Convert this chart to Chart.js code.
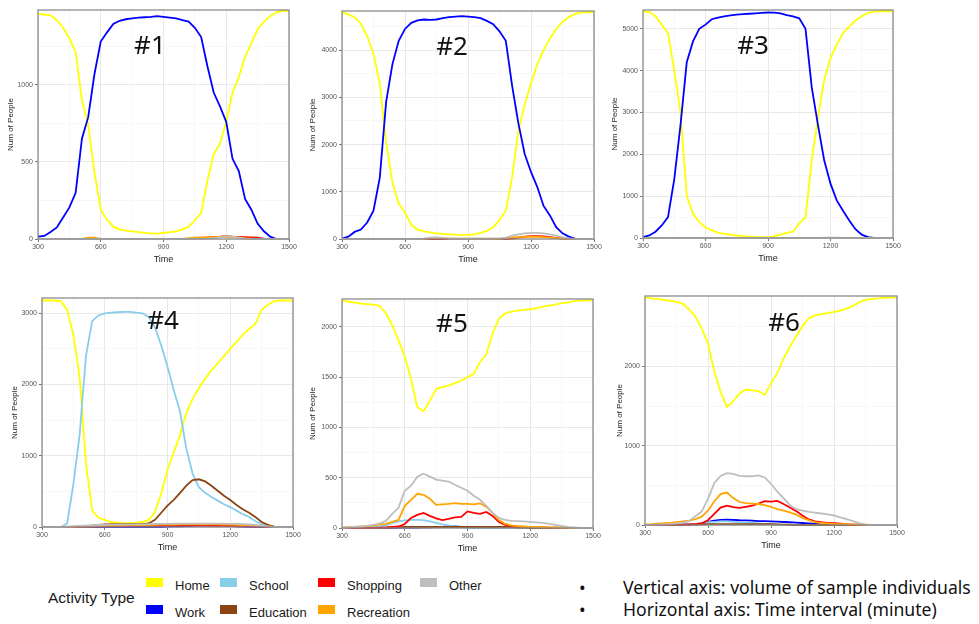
<!DOCTYPE html>
<html>
<head>
<meta charset="utf-8">
<script src="https://cdn.jsdelivr.net/npm/chart.js@4.4.1/dist/chart.umd.min.js"></script>
<style>
  body { margin: 0; background: #fff; }
  #page { position: relative; width: 979px; height: 624px; overflow: hidden; font-family: "Liberation Sans", Arial, sans-serif; }
  #page canvas { position: absolute; }
  .key { position: absolute; width: 17px; height: 9px; }
  .keytxt { position: absolute; font-size: 13px; line-height: 14px; color: #1a1a1a; white-space: nowrap; }
  #legtitle { position: absolute; left: 48px; top: 589px; font-size: 15.5px; line-height: 18px; color: #1a1a1a; }
  .note { position: absolute; font-family: "Noto Sans", sans-serif; font-size: 17.6px; line-height: 22px; color: #111; white-space: nowrap; }
</style>
</head>
<body>
<div id="page">
  <canvas id="c1"></canvas><canvas id="c2"></canvas><canvas id="c3"></canvas>
  <canvas id="c4"></canvas><canvas id="c5"></canvas><canvas id="c6"></canvas>
  <div id="legtitle">Activity Type</div>
  <div class="note" style="left:579px; top:576px;">•</div>
  <div class="note" style="left:623px; top:576px;">Vertical axis: volume of sample individuals</div>
  <div class="note" style="left:579px; top:598px;">•</div>
  <div class="note" style="left:623px; top:598px;">Horizontal axis: Time interval (minute)</div>
</div>
<script>
// time axis (minutes)
const times = [300, 330, 360, 390, 420, 450, 480, 510, 540, 570, 600, 630, 660, 690, 720, 750, 780, 810, 840, 870,
  900, 930, 960, 990, 1020, 1050, 1080, 1110, 1140, 1170, 1200, 1230, 1260, 1290, 1320, 1350, 1380, 1410, 1440, 1470, 1500];
const xTicks = [300, 600, 900, 1200, 1500];
const xGrid = [300, 450, 600, 750, 900, 1050, 1200, 1350, 1500];

const activities = ['Home', 'Work', 'School', 'Education', 'Shopping', 'Recreation', 'Other'];
const activityColors = ['#FFFF00', '#0000FF', '#87CEEB', '#8B4513', '#FF0000', '#FFA500', '#BEBEBE'];

// #1
const p1Home = [1460, 1455, 1450, 1420, 1370, 1300, 1210, 900, 740, 430, 190, 125, 80, 62, 55, 50, 45, 40, 36, 35,
  40, 45, 50, 62, 80, 120, 170, 380, 550, 620, 760, 950, 1050, 1180, 1270, 1360, 1410, 1445, 1470, 1480, 1480];
const p1Work = [15, 20, 45, 75, 140, 205, 300, 650, 790, 1070, 1280, 1340, 1395, 1415, 1425, 1430, 1435, 1438, 1440, 1445,
  1440, 1435, 1430, 1420, 1410, 1370, 1310, 1120, 950, 860, 760, 520, 440, 260, 190, 100, 50, 15, 0, 0, 0];
const p1Shopping = [0, 0, 0, 0, 0, 0, 0, 0, 0, 0, 0, 0, 0, 0, 0, 0, 0, 0, 0, 0,
  0, 0, 0, 0, 0, 0, 3, 10, 14, 15, 18, 15, 14, 12, 10, 8, 3, 0, 0, 0, 0];
const p1Recreation = [0, 0, 0, 0, 0, 0, 0, 0, 8, 8, 0, 0, 0, 0, 0, 0, 0, 0, 0, 0,
  0, 0, 0, 0, 5, 8, 10, 12, 12, 14, 15, 12, 10, 6, 3, 0, 0, 0, 0, 0, 0];
const p1Other = [0, 0, 0, 0, 0, 0, 0, 0, 0, 0, 0, 0, 0, 0, 0, 0, 0, 0, 0, 0,
  0, 0, 0, 0, 0, 0, 0, 3, 5, 10, 18, 15, 8, 3, 0, 0, 0, 0, 0, 0, 0];
const p1YTicks = [0, 500, 1000];
const p1YGrid = [0, 250, 500, 750, 1000, 1250];

// #2
const p2Home = [4800, 4760, 4700, 4560, 4300, 3920, 3300, 2050, 1200, 750, 560, 300, 200, 160, 140, 120, 110, 100, 92, 88,
  90, 100, 130, 170, 250, 400, 600, 1300, 2300, 2850, 3300, 3700, 4000, 4250, 4450, 4600, 4700, 4770, 4800, 4800, 4800];
const p2Work = [10, 50, 150, 200, 350, 600, 1300, 2900, 3700, 4200, 4450, 4580, 4630, 4650, 4640, 4650, 4680, 4700, 4710, 4720,
  4710, 4700, 4680, 4620, 4550, 4400, 4200, 3250, 2450, 1800, 1420, 1100, 700, 500, 250, 120, 50, 10, 0, 0, 0];
const p2Shopping = [0, 0, 0, 0, 0, 0, 0, 0, 0, 0, 0, 0, 0, 0, 0, 0, 0, 0, 0, 0,
  0, 0, 0, 0, 0, 0, 0, 10, 30, 50, 60, 60, 55, 40, 25, 10, 0, 0, 0, 0, 0];
const p2Recreation = [0, 0, 0, 0, 0, 0, 0, 0, 0, 0, 0, 0, 0, 0, 20, 25, 20, 5, 5, 5,
  5, 5, 5, 5, 5, 5, 20, 35, 40, 45, 50, 45, 40, 30, 20, 10, 0, 0, 0, 0, 0];
const p2Other = [0, 0, 0, 0, 0, 0, 0, 0, 0, 0, 0, 0, 0, 10, 30, 35, 25, 10, 5, 5,
  5, 5, 5, 8, 10, 15, 30, 70, 100, 120, 130, 130, 120, 100, 70, 40, 15, 3, 0, 0, 0];
const p2YTicks = [0, 1000, 2000, 3000, 4000];
const p2YGrid = [0, 500, 1000, 1500, 2000, 2500, 3000, 3500, 4000, 4500];

// #3
const p3Home = [5420, 5400, 5300, 5100, 4900, 4000, 3000, 1000, 580, 380, 250, 180, 130, 100, 80, 60, 45, 35, 25, 20,
  20, 40, 80, 120, 150, 350, 500, 1850, 2900, 3780, 4300, 4620, 4900, 5050, 5200, 5300, 5380, 5410, 5420, 5420, 5420];
const p3Work = [20, 60, 150, 300, 500, 1400, 2700, 4200, 4700, 5000, 5100, 5230, 5270, 5300, 5320, 5340, 5350, 5360, 5370, 5380,
  5390, 5385, 5370, 5330, 5300, 5250, 5000, 3600, 2700, 1850, 1300, 900, 650, 420, 210, 80, 20, 0, 0, 0, 0];
const p3Other = [0, 0, 0, 0, 0, 0, 0, 0, 0, 0, 0, 0, 0, 0, 0, 0, 0, 0, 0, 0,
  0, 0, 0, 0, 0, 0, 0, 0, 3, 6, 8, 6, 3, 0, 0, 0, 0, 0, 0, 0, 0];
const p3YTicks = [0, 1000, 2000, 3000, 4000, 5000];
const p3YGrid = [0, 500, 1000, 1500, 2000, 2500, 3000, 3500, 4000, 4500, 5000];

// #4
const p4Home = [3180, 3180, 3180, 3170, 3050, 2700, 2100, 900, 230, 130, 100, 70, 60, 55, 55, 60, 70, 100, 210, 470,
  800, 1050, 1290, 1600, 1800, 1950, 2080, 2200, 2300, 2400, 2500, 2600, 2700, 2780, 2850, 3050, 3120, 3170, 3180, 3180, 3180];
const p4Work = [0, 0, 0, 0, 0, 0, 0, 0, 0, 0, 0, 0, 0, 0, 0, 0, 0, 0, 0, 0,
  5, 8, 10, 12, 15, 18, 20, 20, 20, 18, 15, 10, 5, 2, 0, 0, 0, 0, 0, 0, 0];
const p4School = [0, 0, 0, 0, 50, 600, 1300, 2400, 2890, 2970, 3000, 3010, 3015, 3020, 3020, 3010, 3000, 2950, 2800, 2550,
  2250, 1920, 1620, 1100, 750, 560, 480, 420, 370, 320, 280, 230, 180, 140, 80, 40, 10, 0, 0, 0, 0];
const p4Education = [0, 0, 0, 0, 0, 0, 5, 10, 20, 30, 35, 40, 40, 40, 40, 40, 40, 50, 100, 200,
  300, 380, 480, 580, 660, 670, 640, 580, 510, 440, 380, 310, 250, 200, 140, 70, 30, 5, 0, 0, 0];
const p4Shopping = [0, 0, 0, 0, 0, 0, 2, 4, 6, 8, 10, 12, 13, 14, 15, 15, 15, 16, 16, 17,
  18, 18, 18, 18, 18, 18, 18, 17, 16, 15, 14, 12, 10, 8, 6, 4, 2, 0, 0, 0, 0];
const p4Recreation = [0, 0, 0, 0, 3, 5, 8, 10, 12, 15, 18, 20, 22, 24, 25, 26, 27, 28, 30, 32,
  34, 35, 36, 38, 38, 38, 38, 37, 36, 35, 33, 30, 28, 25, 20, 14, 8, 3, 0, 0, 0];
const p4Other = [0, 0, 0, 0, 5, 10, 15, 20, 25, 28, 30, 32, 34, 35, 36, 37, 38, 40, 42, 44,
  45, 46, 47, 48, 48, 48, 48, 48, 47, 46, 45, 43, 40, 35, 30, 20, 10, 3, 0, 0, 0];
const p4YTicks = [0, 1000, 2000, 3000];
const p4YGrid = [0, 500, 1000, 1500, 2000, 2500, 3000];

// #5
const p5Home = [2260, 2250, 2240, 2230, 2225, 2220, 2207, 2133, 2017, 1867, 1700, 1480, 1200, 1160, 1265, 1380, 1400, 1415, 1440, 1465,
  1500, 1530, 1650, 1725, 1930, 2080, 2130, 2150, 2160, 2167, 2173, 2183, 2200, 2210, 2220, 2233, 2240, 2253, 2260, 2262, 2262];
const p5Work = [0, 0, 0, 0, 0, 0, 0, 0, 2, 3, 4, 5, 5, 6, 6, 8, 10, 15, 15, 12,
  8, 5, 3, 2, 0, 0, 0, 0, 0, 0, 0, 0, 0, 0, 0, 0, 0, 0, 0, 0, 0];
const p5School = [0, 0, 0, 2, 5, 10, 15, 25, 50, 65, 75, 80, 80, 78, 65, 50, 35, 25, 15, 10,
  5, 3, 0, 0, 0, 0, 0, 0, 0, 0, 0, 0, 0, 0, 0, 0, 0, 0, 0, 0, 0];
const p5Education = [0, 0, 0, 0, 0, 0, 0, 3, 5, 8, 10, 10, 10, 10, 10, 10, 10, 10, 10, 10,
  10, 10, 10, 10, 10, 10, 10, 8, 5, 3, 0, 0, 0, 0, 0, 0, 0, 0, 0, 0, 0];
const p5Shopping = [0, 0, 0, 0, 0, 0, 3, 5, 10, 15, 40, 100, 130, 150, 120, 95, 78, 90, 105, 110,
  165, 150, 140, 160, 120, 60, 30, 20, 15, 12, 10, 8, 6, 4, 3, 2, 0, 0, 0, 0, 0];
const p5Recreation = [5, 8, 12, 15, 20, 25, 35, 40, 60, 80, 220, 280, 340, 330, 290, 230, 235, 240, 248, 240,
  240, 235, 245, 210, 150, 80, 40, 25, 18, 15, 12, 10, 8, 6, 5, 4, 2, 0, 0, 0, 0];
const p5Other = [0, 5, 10, 15, 20, 30, 45, 70, 140, 200, 370, 420, 510, 540, 510, 480, 470, 460, 430, 400,
  370, 320, 280, 220, 150, 100, 80, 70, 68, 65, 60, 55, 50, 40, 30, 20, 10, 5, 0, 0, 0];
const p5YTicks = [0, 500, 1000, 1500, 2000];
const p5YGrid = [0, 250, 500, 750, 1000, 1250, 1500, 1750, 2000, 2250];

// #6
const p6Home = [2870, 2860, 2855, 2840, 2830, 2815, 2795, 2720, 2630, 2480, 2290, 1940, 1680, 1490, 1560, 1660, 1710, 1700, 1690, 1640,
  1790, 1920, 2100, 2250, 2380, 2510, 2610, 2645, 2660, 2675, 2690, 2705, 2730, 2765, 2810, 2840, 2855, 2860, 2868, 2870, 2870];
const p6Work = [0, 0, 0, 0, 2, 3, 5, 8, 10, 20, 40, 55, 65, 68, 65, 60, 58, 55, 50, 48,
  45, 42, 38, 35, 30, 25, 20, 15, 10, 8, 5, 3, 0, 0, 0, 0, 0, 0, 0, 0, 0];
const p6School = [0, 0, 0, 0, 0, 0, 5, 10, 15, 25, 35, 40, 45, 45, 40, 35, 30, 25, 20, 15,
  10, 5, 0, 0, 0, 0, 0, 0, 0, 0, 0, 0, 0, 0, 0, 0, 0, 0, 0, 0, 0];
const p6Education = [0, 0, 0, 0, 0, 0, 0, 3, 5, 8, 10, 10, 10, 10, 10, 10, 10, 10, 10, 10,
  10, 8, 5, 3, 0, 0, 0, 0, 0, 0, 0, 0, 0, 0, 0, 0, 0, 0, 0, 0, 0];
const p6Shopping = [0, 0, 0, 0, 0, 2, 5, 8, 12, 20, 60, 140, 220, 245, 225, 215, 230, 245, 270, 300,
  295, 305, 265, 220, 175, 120, 70, 45, 35, 28, 22, 16, 10, 6, 3, 1, 0, 0, 0, 0, 0];
const p6Recreation = [8, 12, 18, 22, 28, 35, 45, 55, 75, 105, 180, 300, 390, 410, 340, 290, 275, 270, 265, 250,
  230, 200, 180, 160, 130, 90, 60, 35, 25, 20, 15, 12, 10, 8, 6, 4, 2, 0, 0, 0, 0];
const p6Other = [0, 2, 5, 8, 12, 20, 30, 50, 110, 170, 330, 530, 620, 655, 645, 620, 615, 615, 625, 600,
  520, 420, 340, 250, 200, 180, 165, 155, 145, 135, 120, 95, 75, 50, 25, 5, 0, 0, 0, 0, 0];
const p6YTicks = [0, 1000, 2000];
const p6YGrid = [0, 500, 1000, 1500, 2000, 2500];

const panels = [
  { id: 'c1', tag: '#1', box: [38, 10, 251, 229], yMax: 1485, yTicks: p1YTicks, yGrid: p1YGrid, tagAt: [0.446, 0.16], titlePad: 8,
    series: { Home: p1Home, Work: p1Work, Shopping: p1Shopping, Recreation: p1Recreation, Other: p1Other } },
  { id: 'c2', tag: '#2', box: [342, 11, 252, 228], yMax: 4830, yTicks: p2YTicks, yGrid: p2YGrid, tagAt: [0.437, 0.16], titlePad: 6,
    series: { Home: p2Home, Work: p2Work, Shopping: p2Shopping, Recreation: p2Recreation, Other: p2Other } },
  { id: 'c3', tag: '#3', box: [643, 10, 250, 228], yMax: 5450, yTicks: p3YTicks, yGrid: p3YGrid, tagAt: [0.44, 0.16], titlePad: 7,
    series: { Home: p3Home, Work: p3Work, Other: p3Other } },
  { id: 'c4', tag: '#4', box: [42, 298, 251, 229], yMax: 3215, yTicks: p4YTicks, yGrid: p4YGrid, tagAt: [0.482, 0.105], titlePad: 8,
    series: { Home: p4Home, Work: p4Work, School: p4School, Education: p4Education, Shopping: p4Shopping, Recreation: p4Recreation, Other: p4Other } },
  { id: 'c5', tag: '#5', box: [342, 299, 251, 229], yMax: 2275, yTicks: p5YTicks, yGrid: p5YGrid, tagAt: [0.438, 0.11], titlePad: 6,
    series: { Home: p5Home, Work: p5Work, School: p5School, Education: p5Education, Shopping: p5Shopping, Recreation: p5Recreation, Other: p5Other } },
  { id: 'c6', tag: '#6', box: [645, 296, 252, 229], yMax: 2890, yTicks: p6YTicks, yGrid: p6YGrid, tagAt: [0.552, 0.122], titlePad: 10,
    series: { Home: p6Home, Work: p6Work, School: p6School, Education: p6Education, Shopping: p6Shopping, Recreation: p6Recreation, Other: p6Other } }
];

// frame around the panel + the big "#n" tag
const panelFrame = {
  id: 'panelFrame',
  afterDatasetsDraw(chart, args, opts) {
    const { ctx, chartArea: a } = chart;
    ctx.save();
    ctx.strokeStyle = '#8c8c8c';
    ctx.lineWidth = 1.3;
    ctx.strokeRect(a.left, a.top, a.width, a.height);
    ctx.fillStyle = '#111';
    ctx.font = '26px "Noto Sans", sans-serif';
    ctx.textAlign = 'center';
    ctx.textBaseline = 'middle';
    ctx.fillText(opts.text, a.left + opts.at[0] * a.width, a.top + opts.at[1] * a.height);
    ctx.restore();
  }
};

const tickFont = { family: '"Liberation Sans", Arial, sans-serif', size: 7 };

function gridStyle(labelled) {
  return {
    color: c => (c.tick && labelled.includes(c.tick.value) ? '#E8E8E8' : '#F4F4F4'),
    lineWidth: c => (c.tick && labelled.includes(c.tick.value) ? 1 : 0.7),
    tickLength: 3,
    tickColor: c => (c.tick && labelled.includes(c.tick.value) ? '#777' : 'rgba(0,0,0,0)')
  };
}

function makePanel(p) {
  const [L, T, W, H] = p.box;
  const cv = document.getElementById(p.id);
  cv.width = W + 54;
  cv.height = H + 38;
  cv.style.left = (L - 40) + 'px';
  cv.style.top = (T - 8) + 'px';

  const datasets = activities
    .map((name, i) => ({ name, i }))
    .filter(d => p.series[d.name])
    .map(d => ({
      label: d.name,
      data: times.map((t, k) => ({ x: t, y: p.series[d.name][k] })),
      borderColor: activityColors[d.i],
      backgroundColor: activityColors[d.i],
      borderWidth: 1.8,
      pointRadius: 0,
      tension: 0,
      order: 6 - d.i,
      clip: 3
    }));

  new Chart(cv.getContext('2d'), {
    type: 'line',
    data: { datasets },
    options: {
      responsive: false,
      animation: false,
      devicePixelRatio: 1,
      layout: { padding: { top: 8, right: 14, bottom: 0, left: 0 } },
      plugins: {
        legend: { display: false },
        tooltip: { enabled: false },
        panelFrame: { text: p.tag, at: p.tagAt }
      },
      scales: {
        x: {
          type: 'linear', min: 300, max: 1500,
          afterFit: s => { s.height = 30; },
          afterBuildTicks: s => { s.ticks = xGrid.map(v => ({ value: v })); },
          ticks: { autoSkip: false, maxRotation: 0, color: '#555', font: tickFont, padding: 1,
            callback: v => (xTicks.includes(v) ? v : '') },
          grid: gridStyle(xTicks),
          border: { display: false },
          title: { display: true, text: 'Time', color: '#222', font: { family: tickFont.family, size: 9 }, padding: { top: 0, bottom: 4 } }
        },
        y: {
          min: 0, max: p.yMax,
          afterFit: s => { s.width = 40; },
          afterBuildTicks: s => { s.ticks = p.yGrid.map(v => ({ value: v })); },
          ticks: { autoSkip: false, color: '#555', font: tickFont, padding: 2,
            callback: v => (p.yTicks.includes(v) ? v : '') },
          grid: gridStyle(p.yTicks),
          border: { display: false },
          title: { display: true, text: 'Num of People', color: '#222', font: { family: tickFont.family, size: 8 }, padding: { top: p.titlePad } }
        }
      }
    },
    plugins: [panelFrame]
  });
}

panels.forEach(makePanel);

// legend, laid out column-wise like the original
const page = document.getElementById('page');
const keyCols = [146, 220, 318, 420];
const keyRows = [578, 605];
activities.forEach((name, i) => {
  const col = Math.floor(i / 2), row = i % 2;
  const box = document.createElement('div');
  box.className = 'key';
  box.style.left = keyCols[col] + 'px';
  box.style.top = keyRows[row] + 'px';
  box.style.background = activityColors[i];
  page.appendChild(box);
  const txt = document.createElement('div');
  txt.className = 'keytxt';
  txt.textContent = name;
  txt.style.left = (keyCols[col] + 29) + 'px';
  txt.style.top = (keyRows[row] + 1) + 'px';
  page.appendChild(txt);
});
</script>
</body>
</html>
